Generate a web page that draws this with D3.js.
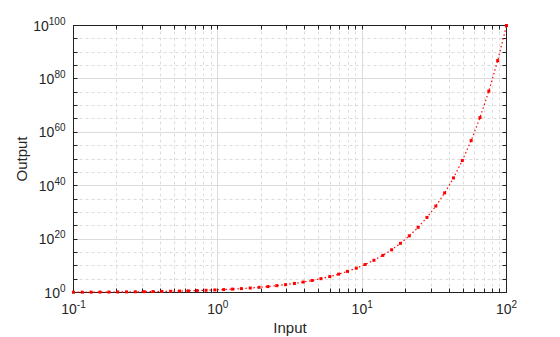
<!DOCTYPE html>
<html lang="en">
<head>
<meta charset="UTF-8">
<title>Input vs Output</title>
<script src="https://d3js.org/d3.v7.min.js"></script>
<style>
  body { margin: 0; background: #fff; }
  svg text { font-family: "Liberation Sans", Arial, sans-serif; fill: #262626; }
</style>
</head>
<body>
<svg width="560" height="337"></svg>
<script>
// input values (log spaced, 0.1 .. 100)
const inputs = [0.1, 0.1151, 0.1326, 0.1526, 0.1758, 0.2024, 0.2330, 0.2683, 0.3089, 0.3556,
  0.4095, 0.4715, 0.5429, 0.6251, 0.7197, 0.8286, 0.9541, 1.0985, 1.2649, 1.4564,
  1.6768, 1.9307, 2.2230, 2.5595, 2.9471, 3.3932, 3.9069, 4.4984, 5.1795, 5.9636,
  6.8665, 7.9060, 9.1030, 10.481, 12.068, 13.895, 15.999, 18.421, 21.210, 24.421,
  28.118, 32.375, 37.276, 42.919, 49.417, 56.899, 65.513, 75.431, 86.851, 100];
// output values
const outputs = [1.259, 1.303, 1.357, 1.421, 1.499, 1.593, 1.710, 1.855, 2.037, 2.269,
  2.567, 2.961, 3.490, 4.219, 5.245, 6.741, 8.997, 12.55, 18.40, 28.60,
  47.51, 85.23, 167.1, 362.6, 885.2, 2474, 8072, 3.151e4, 1.511e5, 9.196e5,
  7.354e6, 8.054e7, 1.268e9, 3.028e10, 1.169e12, 7.852e13, 9.968e15, 2.634e18, 1.620e21, 2.634e24,
  1.312e28, 2.369e32, 1.888e37, 8.305e42, 2.613e49, 7.920e56, 3.258e65, 2.700e75, 7.098e86, 1e100];

const xMajor = [0.1, 1, 10, 100];
const xMajorLabels = ["-1", "0", "1", "2"];
const yMajor = [1, 1e20, 1e40, 1e60, 1e80, 1e100];
const yMajorLabels = ["0", "20", "40", "60", "80", "100"];
const yMinor = [1e5, 1e10, 1e15, 1e25, 1e30, 1e35, 1e45, 1e50, 1e55, 1e65, 1e70, 1e75, 1e85, 1e90, 1e95];

const margin = { top: 25.5, right: 53.5, bottom: 44.5, left: 73.5 };
const W = 560, H = 337;
const width = W - margin.left - margin.right;
const height = H - margin.top - margin.bottom;

const svg = d3.select("svg");
const g = svg.append("g").attr("transform", "translate(" + margin.left + "," + margin.top + ")");

const x = d3.scaleLog().domain([0.1, 100]).range([0, width]);
const y = d3.scaleLog().domain([1, 1e100]).range([height, 0]);

// minor x ticks: 2..9 in each decade
const xMinor = [];
[0.1, 1, 10].forEach(d => { for (let k = 2; k <= 9; k++) xMinor.push(d * k); });

// grid
g.append("g").selectAll("line").data(xMinor).enter().append("line")
  .attr("x1", d => Math.round(x(d))).attr("x2", d => Math.round(x(d)))
  .attr("y1", 0).attr("y2", height)
  .attr("stroke", "#dcdcdc").attr("stroke-dasharray", "3,3");
g.append("g").selectAll("line").data(yMinor).enter().append("line")
  .attr("y1", d => Math.round(y(d))).attr("y2", d => Math.round(y(d)))
  .attr("x1", 0).attr("x2", width)
  .attr("stroke", "#dcdcdc").attr("stroke-dasharray", "3,3");
g.append("g").selectAll("line").data(xMajor.slice(1, -1)).enter().append("line")
  .attr("x1", d => Math.round(x(d))).attr("x2", d => Math.round(x(d)))
  .attr("y1", 0).attr("y2", height)
  .attr("stroke", "#dcdcdc");
g.append("g").selectAll("line").data(yMajor.slice(1, -1)).enter().append("line")
  .attr("y1", d => Math.round(y(d))).attr("y2", d => Math.round(y(d)))
  .attr("x1", 0).attr("x2", width)
  .attr("stroke", "#dcdcdc");

// axes with inward ticks on all four sides
const tl = 4;
function ticksX(yPos, dir) {
  g.append("g").selectAll("line").data(xMajor.concat(xMinor)).enter().append("line")
    .attr("x1", d => Math.round(x(d))).attr("x2", d => Math.round(x(d)))
    .attr("y1", yPos).attr("y2", yPos + dir * tl)
    .attr("stroke", "#222");
}
function ticksY(xPos, dir) {
  g.append("g").selectAll("line").data(yMajor.concat(yMinor)).enter().append("line")
    .attr("y1", d => Math.round(y(d))).attr("y2", d => Math.round(y(d)))
    .attr("x1", xPos).attr("x2", xPos + dir * tl)
    .attr("stroke", "#222");
}
ticksX(height, -1); ticksX(0, 1);
ticksY(0, 1); ticksY(width, -1);

g.append("rect").attr("width", width).attr("height", height)
  .attr("fill", "none").attr("stroke", "#222");

// tick labels
const xl = g.append("g").selectAll("text").data(xMajor).enter().append("text")
  .attr("x", d => x(d)).attr("y", height + 21.5)
  .attr("text-anchor", "middle").style("font-size", "14px");
xl.append("tspan").text("10");
xl.append("tspan").attr("dy", -6).style("font-size", "10px").text((d, i) => xMajorLabels[i]);

const yl = g.append("g").selectAll("text").data(yMajor).enter().append("text")
  .attr("x", -8).attr("y", d => y(d) + 5)
  .attr("text-anchor", "end").style("font-size", "14px");
yl.append("tspan").text("10");
yl.append("tspan").attr("dy", -6).style("font-size", "10px").text((d, i) => yMajorLabels[i]);

// axis titles
svg.append("text").attr("x", margin.left + width / 2).attr("y", 333)
  .attr("text-anchor", "middle").style("font-size", "15px").text("Input");
svg.append("text").attr("transform", "translate(27," + (margin.top + height / 2) + ") rotate(-90)")
  .attr("text-anchor", "middle").style("font-size", "15px").text("Output");

// series
const pts = inputs.map((d, i) => [d, outputs[i]]);
const line = d3.line().x(d => x(d[0])).y(d => y(d[1]));
g.append("path").datum(pts).attr("d", line)
  .attr("fill", "none").attr("stroke", "#ff0000").attr("stroke-width", 1.2)
  .attr("stroke-dasharray", "1.5,2.5");
g.append("g").selectAll("rect").data(pts).enter().append("rect")
  .attr("x", d => x(d[0]) - 1.5).attr("y", d => y(d[1]) - 1.5)
  .attr("width", 3).attr("height", 3).attr("fill", "#ff0000");
</script>
</body>
</html>
